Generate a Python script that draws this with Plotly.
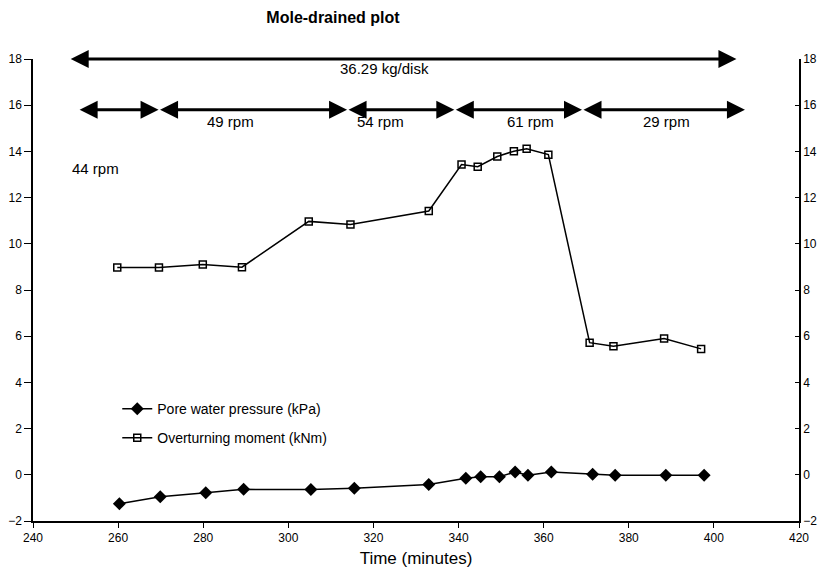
import plotly.graph_objects as go

# ---- data ----
pore_time = [260.3, 269.9, 280.6, 289.5, 305.3, 315.5, 333.0, 341.7, 345.2, 349.6,
             353.3, 356.3, 361.8, 371.5, 376.8, 388.7, 397.7]
pore_kpa = [-1.25, -0.95, -0.78, -0.63, -0.64, -0.58, -0.42, -0.15, -0.08, -0.08,
            0.12, -0.02, 0.12, 0.02, -0.02, -0.02, -0.02]

mom_time = [259.8, 269.6, 279.9, 289.1, 304.8, 314.6, 333.0, 340.7, 344.5, 349.1,
            353.0, 356.0, 361.1, 370.8, 376.4, 388.3, 397.0]
mom_knm = [8.97, 8.97, 9.1, 8.99, 10.97, 10.84, 11.42, 13.43, 13.34, 13.78,
           14.01, 14.11, 13.86, 5.72, 5.56, 5.9, 5.45]

# load arrow (kg/disk)
load_span = [248.5, 405.3]
load_level = 18.0
load_label = "36.29 kg/disk"
load_label_pos = (322.5, 17.6)

# speed arrows (rpm)
speed_bounds = [250.6, 269.5, 313.8, 339.0, 369.0, 407.3]
speed_level = 15.8
speed_labels = ["44 rpm", "49 rpm", "54 rpm", "61 rpm", "29 rpm"]
speed_label_x = [254.8, 286.3, 321.7, 356.8, 388.9]
speed_label_y = [13.25, 15.3, 15.3, 15.3, 15.3]

x_ticks = [240, 260, 280, 300, 320, 340, 360, 380, 400, 420]
y_ticks = [-2, 0, 2, 4, 6, 8, 10, 12, 14, 16, 18]

FONT = "Arial, Liberation Sans, sans-serif"

# page body has an 8px margin; size the figure to fit in the 825x576 window
W, H = 809, 560

fig = go.Figure()
fig.add_trace(go.Scatter(
    x=pore_time, y=pore_kpa, mode="lines+markers",
    name="Pore water pressure (kPa)", legendgroup="a",
    line=dict(color="black", width=1.5),
    marker=dict(symbol="diamond", size=10, color="black"),
))
fig.add_trace(go.Scatter(
    x=mom_time, y=mom_knm, mode="lines+markers",
    name="Overturning moment (kNm)", legendgroup="b",
    line=dict(color="black", width=1.5),
    marker=dict(symbol="square-open", size=7, color="black", line=dict(width=1.5)),
))
fig.add_trace(go.Scatter(x=[None], y=[None], yaxis="y2", showlegend=False))

annotations = []
annotations.append(dict(
    x=load_span[1], y=load_level, ax=load_span[0], ay=load_level,
    xref="x", yref="y", axref="x", ayref="y", text="",
    showarrow=True, arrowhead=2, arrowside="end+start", arrowsize=1.2,
    arrowwidth=3, arrowcolor="black"))
annotations.append(dict(
    x=load_label_pos[0], y=load_label_pos[1], xref="x", yref="y",
    text=load_label, showarrow=False, font=dict(size=15, color="black", family=FONT)))
for i in range(len(speed_bounds) - 1):
    annotations.append(dict(
        x=speed_bounds[i + 1], y=speed_level, ax=speed_bounds[i], ay=speed_level,
        xref="x", yref="y", axref="x", ayref="y", text="",
        showarrow=True, arrowhead=2, arrowside="end+start", arrowsize=1.2,
        arrowwidth=3, arrowcolor="black"))
for lbl, lx, ly in zip(speed_labels, speed_label_x, speed_label_y):
    annotations.append(dict(
        x=lx, y=ly, xref="x", yref="y", text=lbl, showarrow=False,
        font=dict(size=15, color="black", family=FONT)))

axis_common = dict(
    showgrid=False, zeroline=False, showline=True, linecolor="black", linewidth=1.5,
    tickwidth=1.2, tickcolor="black", automargin=False,
    tickfont=dict(size=12, color="black", family=FONT),
)

fig.update_layout(
    width=W, height=H,
    margin=dict(l=25, r=18, t=51, b=47),
    paper_bgcolor="white", plot_bgcolor="white",
    title=dict(text="<b>Mole-drained plot</b>", x=(333 - 8) / W, xanchor="center",
               y=1 - (17 - 8) / H, yanchor="middle",
               font=dict(size=16, color="black", family=FONT)),
    xaxis=dict(range=[240, 420], tickvals=x_ticks, ticks="outside", ticklen=5,
               **axis_common,
               title=dict(text="Time (minutes)", standoff=17,
                          font=dict(size=17, color="black", family=FONT))),
    yaxis=dict(range=[-2, 18], tickvals=y_ticks, ticks="outside", ticklen=7,
               **axis_common),
    yaxis2=dict(range=[-2, 18], tickvals=y_ticks, ticks="inside", ticklen=4,
                overlaying="y", side="right", **axis_common),
    legend=dict(x=0.11, y=0.277, xanchor="left", yanchor="top",
                bgcolor="rgba(0,0,0,0)", traceorder="grouped", tracegroupgap=8,
                font=dict(size=14, color="black", family=FONT), itemwidth=30),
    annotations=annotations,
    showlegend=True,
)

fig.write_html("out.html")
